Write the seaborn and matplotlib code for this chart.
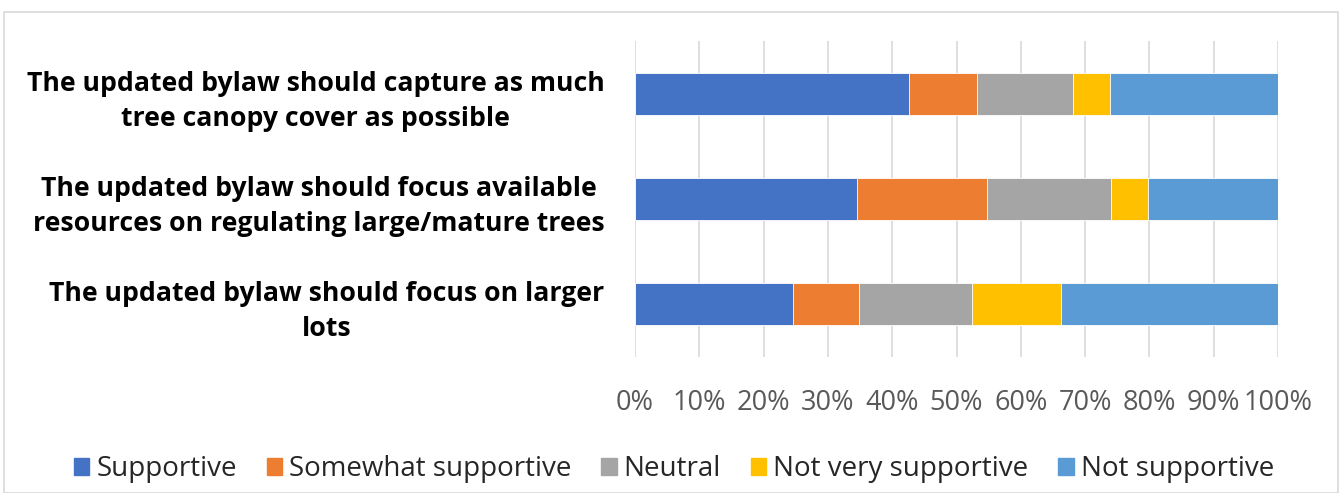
import numpy as np
import pandas as pd
import matplotlib
matplotlib.use("Agg")
import matplotlib.pyplot as plt
from matplotlib.patches import Patch, Rectangle
import seaborn as sns

# =========================
# DATA
# =========================
questions = [
    "The updated bylaw should capture as much\ntree canopy cover as possible",
    "The updated bylaw should focus available\nresources on regulating large/mature trees",
    "The updated bylaw should focus on larger\nlots",
]
responses = ["Supportive", "Somewhat supportive", "Neutral",
             "Not very supportive", "Not supportive"]

supportive = [42.6, 34.5, 24.5]
somewhat_supportive = [10.6, 20.3, 10.3]
neutral = [14.9, 19.3, 17.6]
not_very_supportive = [5.8, 5.7, 13.8]
not_supportive = [26.1, 20.2, 33.8]

colors = ["#4472C4", "#ED7D31", "#A5A5A5", "#FFC000", "#5B9BD5"]

# =========================
# TABLE
# =========================
df = pd.DataFrame({
    "question": questions,
    "Supportive": supportive,
    "Somewhat supportive": somewhat_supportive,
    "Neutral": neutral,
    "Not very supportive": not_very_supportive,
    "Not supportive": not_supportive,
})
cum = df[responses].cumsum(axis=1)

# =========================
# PLOT
# =========================
sns.set_theme(style="white")
plt.rcParams["font.family"] = ["Open Sans", "DejaVu Sans"]

W, H = 1340, 493
fig = plt.figure(figsize=(W / 100, H / 100), dpi=100)
fig.patches.append(Rectangle((4 / W, 0), (1334) / W, 1 - 12 / H,
                             transform=fig.transFigure, fill=False,
                             edgecolor="#d9d9d9", linewidth=1.2))

ax = fig.add_axes([635 / W, 1 - 357 / H, (1278 - 635) / W, (357 - 41) / H])

# draw from the right-most cumulative segment back to the first
for resp, col in reversed(list(zip(responses, colors))):
    sns.barplot(x=cum[resp], y=df["question"], orient="h", width=0.4,
                color=col, edgecolor="white", linewidth=0.6,
                saturation=1, ax=ax, zorder=3)

ax.set_xlim(0, 100)
ax.set_xticks(np.arange(0, 101, 10))
ax.set_xticklabels([f"{v}%" for v in range(0, 101, 10)])
ax.grid(axis="x", color="#d9d9d9", linewidth=1.2, zorder=0)
ax.set_axisbelow(True)
for s in ax.spines.values():
    s.set_visible(False)
ax.set_xlabel("")
ax.set_ylabel("")
ax.tick_params(axis="x", length=0, pad=23, labelsize=19.5, labelcolor="#595959")
ax.tick_params(axis="y", length=0, pad=22, labelsize=19.2)
for lab in ax.get_yticklabels():
    lab.set_fontweight("bold")
    lab.set_multialignment("center")
    lab.set_linespacing(1.45)
    lab.set_color("black")

handles = [Patch(facecolor=c, edgecolor=c, label=r) for r, c in zip(responses, colors)]
fig.legend(handles=handles, loc="center", bbox_to_anchor=(674 / W, 1 - 469 / H),
           ncol=5, frameon=False, fontsize=20, handlelength=0.55,
           handleheight=0.55, handletextpad=0.25, columnspacing=1.08)

fig.savefig("out.png", dpi=100, facecolor="white")
